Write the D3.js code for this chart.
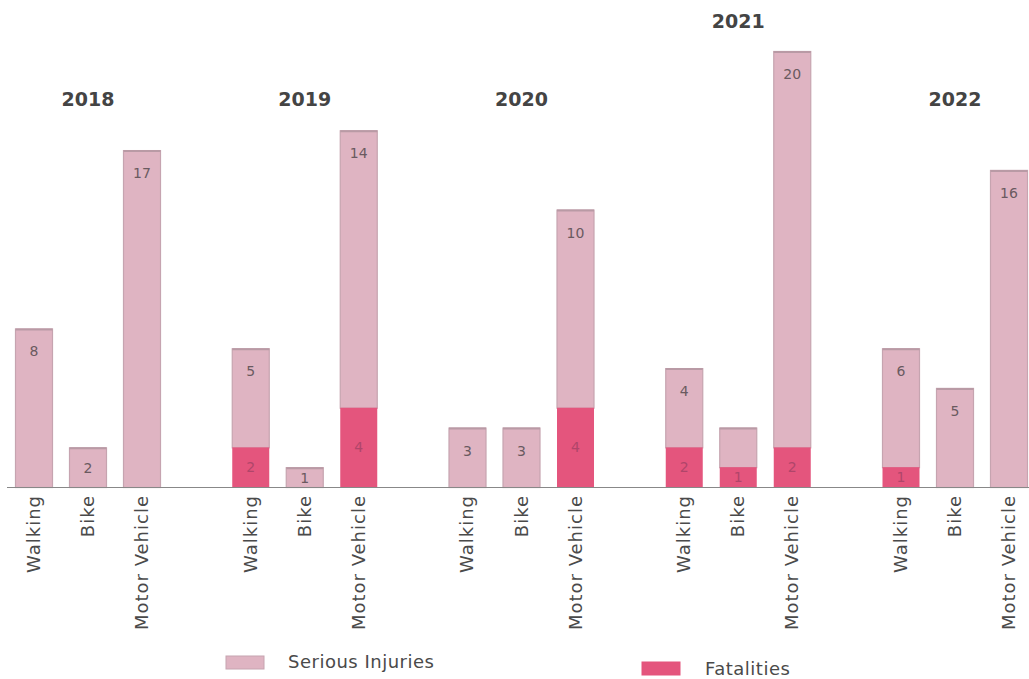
<!DOCTYPE html>
<html><head><meta charset="utf-8">
<script src="https://cdn.jsdelivr.net/npm/d3@7"></script>
<style>body{margin:0;background:#fff}svg{display:block}</style>
</head><body><svg id="c" width="1029" height="679"></svg>
<script>
const years = ["2018","2019","2020","2021","2022"];
const modes = ["Walking","Bike","Motor Vehicle"];
// serious injuries per year, per mode
const serious = {
  "2018":[8,2,17],
  "2019":[5,1,14],
  "2020":[3,3,10],
  "2021":[4,2,20],
  "2022":[6,5,16]
};
const fatalities = {
  "2018":[0,0,0],
  "2019":[2,0,4],
  "2020":[0,0,4],
  "2021":[2,1,2],
  "2022":[1,0,0]
};
// which serious counts are labelled in the original
const seriousLabelShown = {
  "2018":[true,true,true],
  "2019":[true,true,true],
  "2020":[true,true,true],
  "2021":[true,false,true],
  "2022":[true,true,true]
};
const legendItems = ["Serious Injuries","Fatalities"];

const svg = d3.select("#c");
const font = "DejaVu Sans, sans-serif";
const baseY = 487;
const x0 = d3.scaleBand().domain(years).range([15,1028]).paddingInner(0.3264).paddingOuter(0);
const x1 = d3.scaleBand().domain(modes).range([0,x0.bandwidth()]).paddingInner(0.2963).paddingOuter(0);
const y = d3.scaleLinear().domain([0,22]).range([baseY,51]);

const cSer = "#dfb4c2", cSerStroke = "#c6a4b0";
const cFat = "#e4557d";

const rows = [];
years.forEach(yr => modes.forEach((m,i) => rows.push({yr, m, s:serious[yr][i], f:fatalities[yr][i], show:seriousLabelShown[yr][i]})));

const g = svg.append("g");
// serious segment (stacked on top of fatalities)
g.selectAll("rect.s").data(rows).join("rect")
  .attr("x", d => x0(d.yr)+x1(d.m)+0.5)
  .attr("width", x1.bandwidth()-1)
  .attr("y", d => y(d.f+d.s)+0.5)
  .attr("height", d => y(d.f)-y(d.f+d.s))
  .attr("fill", cSer).attr("stroke", cSerStroke).attr("stroke-width",1.2);
// top edge accent
g.selectAll("line.t").data(rows).join("line")
  .attr("x1", d => x0(d.yr)+x1(d.m)+0.5)
  .attr("x2", d => x0(d.yr)+x1(d.m)+x1.bandwidth()-0.5)
  .attr("y1", d => y(d.f+d.s)+1).attr("y2", d => y(d.f+d.s)+1)
  .attr("stroke","#b99aa5").attr("stroke-width",2);
// fatalities
g.selectAll("rect.f").data(rows.filter(d=>d.f>0)).join("rect")
  .attr("x", d => x0(d.yr)+x1(d.m)+0.5)
  .attr("width", x1.bandwidth()-1)
  .attr("y", d => y(d.f))
  .attr("height", d => y(0)-y(d.f))
  .attr("fill", cFat);
// serious labels
g.selectAll("text.s").data(rows.filter(d=>d.show)).join("text")
  .attr("x", d => x0(d.yr)+x1(d.m)+x1.bandwidth()/2)
  .attr("y", d => y(d.f+d.s)+Math.min(28,(y(d.f)-y(d.f+d.s))/2+6))
  .attr("text-anchor","middle")
  .attr("font-family",font).attr("font-size",14).attr("fill","#6a5a60")
  .text(d=>d.s);
// fatal labels
g.selectAll("text.f").data(rows.filter(d=>d.f>0)).join("text")
  .attr("x", d => x0(d.yr)+x1(d.m)+x1.bandwidth()/2)
  .attr("y", d => (y(d.f)+y(0))/2+5)
  .attr("text-anchor","middle")
  .attr("font-family",font).attr("font-size",14).attr("fill","#b0456a")
  .text(d=>d.f);

// baseline
svg.append("line").attr("x1",7).attr("x2",1029).attr("y1",baseY+0.5).attr("y2",baseY+0.5)
  .attr("stroke","#888").attr("stroke-width",1);

// category axis labels (rotated)
svg.selectAll("text.cat").data(rows).join("text")
  .attr("transform", d => `translate(${x0(d.yr)+x1(d.m)+x1.bandwidth()/2+6},${baseY+8}) rotate(-90)`)
  .attr("text-anchor","end")
  .attr("font-family",font).attr("font-size",18).attr("letter-spacing","1px").attr("fill","#4a4a4a")
  .text(d=>d.m);

// year labels
svg.selectAll("text.yr").data(years).join("text")
  .attr("x", d => x0(d)+x0.bandwidth()/2)
  .attr("y", d => {
    const top = d3.min(modes.map((m,i)=>y(serious[d][i]+fatalities[d][i])));
    return Math.min(99, top-30)+7;
  })
  .attr("text-anchor","middle")
  .attr("font-family",font).attr("font-weight","bold").attr("font-size",19).attr("fill","#444")
  .text(d=>d);

// legend
const leg = [{x:226,y:656,c:cSer,s:cSerStroke,tx:288,ty:668},{x:642,y:662,c:cFat,s:cFat,tx:705,ty:675}];
legendItems.forEach((t,i) => {
  const L = leg[i];
  svg.append("rect").attr("x",L.x).attr("y",L.y).attr("width",38).attr("height",13)
    .attr("fill",L.c).attr("stroke",L.s);
  svg.append("text").attr("x",L.tx).attr("y",L.ty)
    .attr("font-family",font).attr("font-size",18).attr("letter-spacing","0.5px").attr("fill","#4a4a4a").text(t);
});
</script></body></html>
